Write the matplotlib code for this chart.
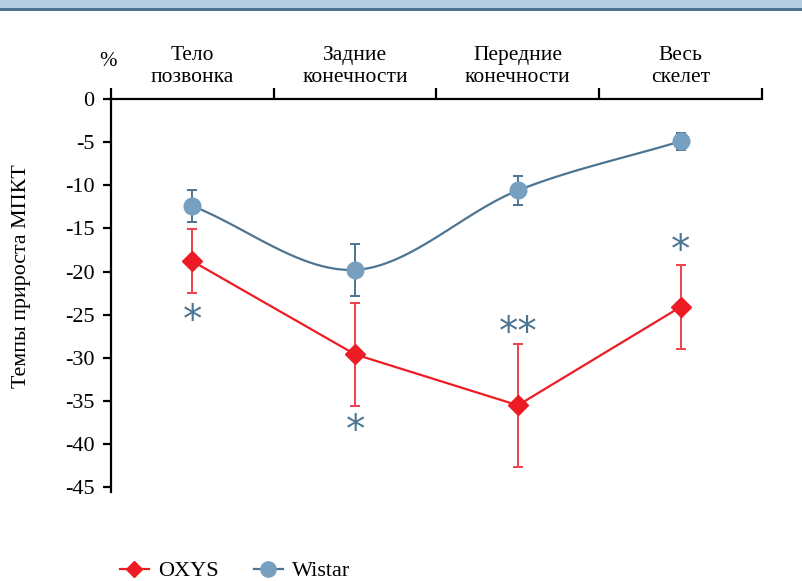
import numpy as np
import matplotlib
matplotlib.use("Agg")
import matplotlib.pyplot as plt
from matplotlib.lines import Line2D
from matplotlib.patches import Rectangle

plt.rcParams['font.family'] = ['Liberation Serif', 'DejaVu Serif']

categories = ["Тело\nпозвонка", "Задние\nконечности", "Передние\nконечности", "Весь\nскелет"]
wistar = [-12.4, -19.8, -10.6, -4.9]
wistar_err = [1.9, 3.0, 1.7, 1.0]
oxys = [-18.8, -29.6, -35.5, -24.1]
oxys_err = [3.7, 6.0, 7.1, 4.9]
stars = ["*", "*", "**", "*"]
star_y = [-25.7, -38.5, -27.1, -17.6]
yticks = [0, -5, -10, -15, -20, -25, -30, -35, -40, -45]

RED = "#ed1c24"
RED_ERR = "#f0404a"
BLUE_M = "#779fc0"
BLUE_L = "#4c7593"

W, H = 803, 581
fig = plt.figure(figsize=(W / 100, H / 100), dpi=100)

# top decorative band
fig.patches.append(Rectangle((0, 1 - 8 / H), 1, 8 / H, transform=fig.transFigure,
                             facecolor="#b7cde0", edgecolor="none"))
fig.patches.append(Rectangle((0, 1 - 11 / H), 1, 3 / H, transform=fig.transFigure,
                             facecolor="#4f7391", edgecolor="none"))

left, right = 111 / W, 762 / W
top, bottom = 1 - 99 / H, 1 - 492 / H
ax = fig.add_axes([left, bottom, right - left, top - bottom])
ax.set_xlim(0, 4)
ax.set_ylim(-45.55, 0)

x = np.arange(len(categories)) + 0.5


def catmull(xs, ys, n=40):
    pts = np.column_stack([xs, ys])
    P = np.vstack([2 * pts[0] - pts[1], pts, 2 * pts[-1] - pts[-2]])
    out = []
    for i in range(1, len(P) - 2):
        p0, p1, p2, p3 = P[i - 1], P[i], P[i + 1], P[i + 2]
        t = np.linspace(0, 1, n)[:, None]
        seg = 0.5 * ((2 * p1) + (-p0 + p2) * t + (2 * p0 - 5 * p1 + 4 * p2 - p3) * t ** 2
                     + (-p0 + 3 * p1 - 3 * p2 + p3) * t ** 3)
        out.append(seg)
    c = np.vstack(out)
    return c[:, 0], c[:, 1]


sx, sy = catmull(x, np.array(wistar))
ax.plot(sx, sy, color=BLUE_L, lw=1.6, zorder=2)
ax.errorbar(x, wistar, yerr=wistar_err, fmt="none", ecolor=BLUE_L, elinewidth=1.4,
            capsize=3.5, capthick=1.4, zorder=3)
ax.plot(x, wistar, "o", color=BLUE_M, ms=12, zorder=4)

ax.plot(x, oxys, color=RED, lw=1.6, zorder=2)
ax.errorbar(x, oxys, yerr=oxys_err, fmt="none", ecolor=RED_ERR, elinewidth=1.4,
            capsize=3.5, capthick=1.4, zorder=3)
ax.plot(x, oxys, "D", color=RED, ms=10, zorder=4)

for xi, s, yi in zip(x, stars, star_y):
    ax.text(xi, yi, s, ha="center", va="center", fontsize=28, color=BLUE_L,
            family="DejaVu Sans")

# axes styling
for sp in ["bottom", "right"]:
    ax.spines[sp].set_visible(False)
ax.spines["top"].set_linewidth(1.6)
ax.spines["left"].set_linewidth(1.6)
ax.xaxis.set_ticks_position("top")
ax.set_xticks(np.arange(0, 5))
ax.set_xticklabels([])
ax.tick_params(axis="x", direction="out", length=8, width=1.6)
ax.set_yticks(yticks)
ax.set_yticklabels([str(v) for v in yticks])
ax.tick_params(axis="y", direction="out", length=6, width=1.6, labelsize=16, pad=6)

for xi, c in zip(x, categories):
    ax.annotate(c, (xi, 0), xytext=(0, 9), textcoords="offset points",
                ha="center", va="bottom", fontsize=15.5, linespacing=1.2)

fig.text(108 / W, 1 - 61 / H, "%", ha="center", va="center", fontsize=15)
ax.set_ylabel("Темпы прироста МПКТ", fontsize=15.8)
ax.yaxis.set_label_coords(-0.123, 0.55)

handles = [
    Line2D([], [], color=RED, marker="D", ms=8, lw=1.6, label="OXYS"),
    Line2D([], [], color=BLUE_L, marker="o", mfc=BLUE_M, mec=BLUE_M, ms=11, lw=1.6, label="Wistar"),
]
fig.legend(handles=handles, loc="center left", bbox_to_anchor=(100 / W, 1 - 571 / H),
           ncol=2, frameon=False, fontsize=16, handlelength=1.3, columnspacing=1.6,
           handletextpad=0.4)

fig.savefig("out.png", dpi=100)
